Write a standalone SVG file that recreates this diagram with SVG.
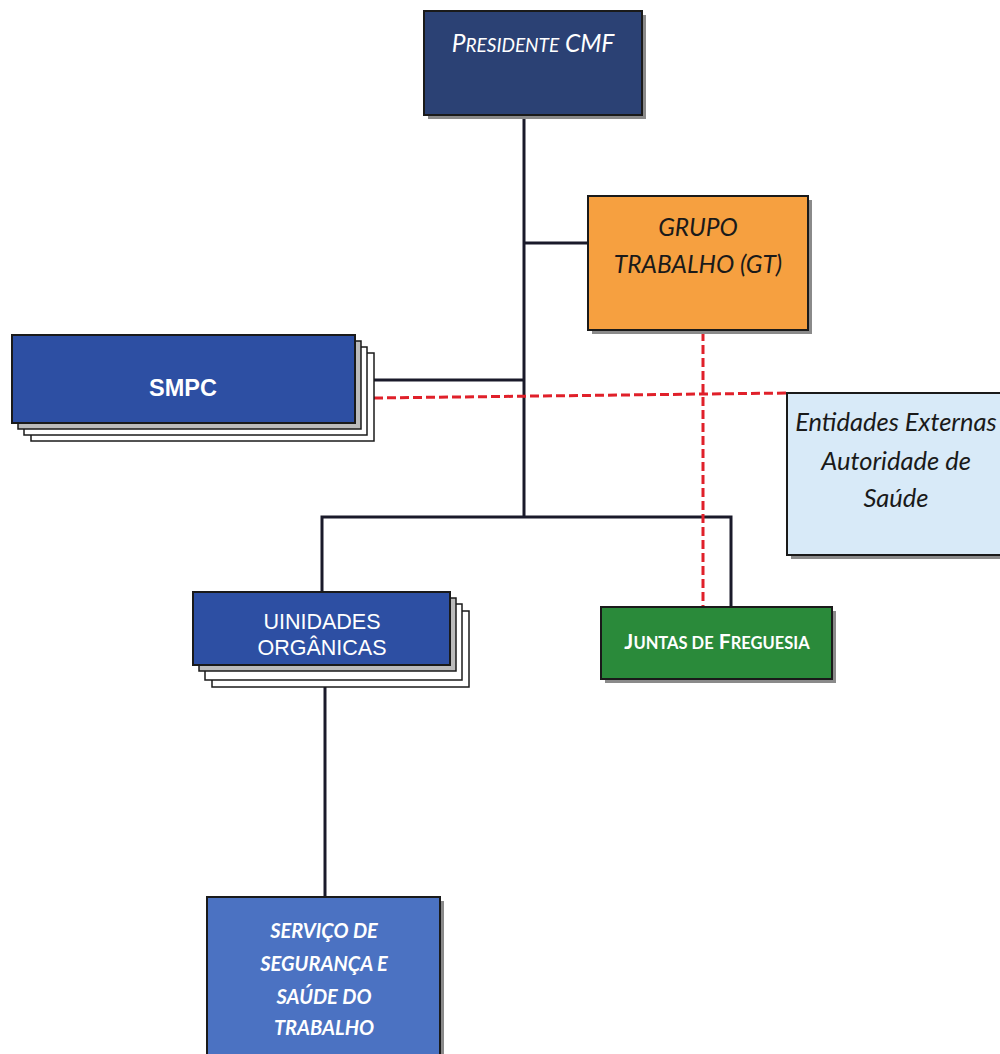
<svg xmlns="http://www.w3.org/2000/svg" width="1000" height="1054" viewBox="0 0 1000 1054">
<defs>
<style>
.bx{stroke:#1a1a1a;stroke-width:2}
.sh{fill:#8a8a8a}
.pg{fill:#fff;stroke:#1a1a1a;stroke-width:1.5}
.ln{stroke:#1a1a2a;stroke-width:3;fill:none}
.rd{stroke:#e0202a;stroke-width:3;fill:none;stroke-dasharray:9 4}
.ca{font-family:Lato,"Open Sans",sans-serif;text-anchor:middle}
.ar{font-family:"Liberation Sans",Arial,sans-serif;text-anchor:middle;fill:#fff}
</style>
</defs>
<rect width="1000" height="1054" fill="#fff"/>
<g id="connectors">
<polyline class="ln" points="524,115 524,517"/>
<polyline class="ln" points="524,243 588,243"/>
<polyline class="ln" points="374,380 524,380"/>
<polyline class="ln" points="322,592 322,517 731,517 731,607"/>
<polyline class="ln" points="325,672 325,897"/>
<polyline class="rd" points="374,398 788,393"/>
<polyline class="rd" points="703,332 703,607"/>
</g>
<g id="presidente">
<rect class="sh" x="428" y="15" width="218" height="104"/>
<rect class="bx" x="424" y="11" width="218" height="104" fill="#2b4174"/>
<text class="ca" x="533" y="52" fill="#fff" font-style="italic" font-size="24.5">P<tspan font-size="19">RESIDENTE</tspan> CMF</text>
</g>
<g id="grupo">
<rect class="sh" x="592" y="200" width="220" height="134"/>
<rect class="bx" x="588" y="196" width="220" height="134" fill="#f6a040"/>
<text class="ca" x="698" y="236" fill="#1a1a1a" font-style="italic" font-size="24.5">GRUPO</text>
<text class="ca" x="698" y="273" fill="#1a1a1a" font-style="italic" font-size="24.5">TRABALHO (GT)</text>
</g>
<g id="smpc">
<rect class="pg" x="31" y="353" width="343" height="88"/>
<rect class="pg" x="24" y="347" width="343" height="88"/>
<rect x="18" y="341" width="343" height="88" fill="#bbb" stroke="#1a1a1a" stroke-width="1.5"/>
<rect class="bx" x="12" y="335" width="343" height="88" fill="#2d4fa3"/>
<text class="ar" x="183" y="396" font-size="23.5" font-weight="bold">SMPC</text>
</g>
<g id="entidades">
<rect class="sh" x="791" y="397" width="215" height="162"/>
<rect class="bx" x="787" y="393" width="215" height="162" fill="#d8eaf8"/>
<text class="ca" x="896" y="431" fill="#1a1a1a" font-style="italic" font-size="25.5">Entidades Externas</text>
<text class="ca" x="896" y="470" fill="#1a1a1a" font-style="italic" font-size="25.5">Autoridade de</text>
<text class="ca" x="896" y="507" fill="#1a1a1a" font-style="italic" font-size="25.5">Saúde</text>
</g>
<g id="unidades">
<rect class="pg" x="212" y="611" width="257" height="76"/>
<rect class="pg" x="205" y="604" width="257" height="76"/>
<rect x="199" y="598" width="257" height="73" fill="#bbb" stroke="#1a1a1a" stroke-width="1.5"/>
<rect class="bx" x="193" y="592" width="257" height="73" fill="#2d4fa3"/>
<text class="ar" x="322" y="629" font-size="21.5">UINIDADES</text>
<text class="ar" x="322" y="655" font-size="21.5">ORGÂNICAS</text>
</g>
<g id="juntas">
<rect class="sh" x="605" y="611" width="231" height="72"/>
<rect class="bx" x="601" y="607" width="231" height="72" fill="#2a8a3a"/>
<text class="ca" x="717" y="649" fill="#fff" font-weight="bold" font-size="21">J<tspan font-size="16.5">UNTAS DE</tspan> F<tspan font-size="16.5">REGUESIA</tspan></text>
</g>
<g id="servico">
<rect class="sh" x="211" y="901" width="233" height="160"/>
<rect class="bx" x="207" y="897" width="233" height="160" fill="#4b72c2"/>
<text class="ca" x="324" y="938" fill="#fff" font-style="italic" font-weight="bold" font-size="20">SERVIÇO DE</text>
<text class="ca" x="324" y="971" fill="#fff" font-style="italic" font-weight="bold" font-size="20">SEGURANÇA E</text>
<text class="ca" x="324" y="1004" fill="#fff" font-style="italic" font-weight="bold" font-size="20">SAÚDE DO</text>
<text class="ca" x="324" y="1035" fill="#fff" font-style="italic" font-weight="bold" font-size="20">TRABALHO</text>
</g>
</svg>
